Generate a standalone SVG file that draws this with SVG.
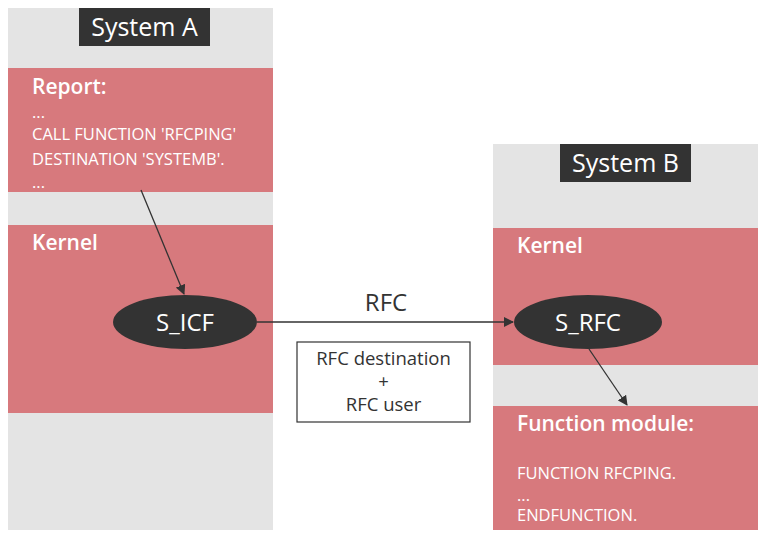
<svg xmlns="http://www.w3.org/2000/svg" width="768" height="537" viewBox="0 0 768 537">
<defs>
<style>
.g{fill:#e4e4e4}
.r{fill:#d7797d}
.t{font-family:"Open Sans",sans-serif;fill:#fff}
.hd{font-size:21px;font-weight:600}
.sm{font-size:16.5px}
.dark{fill:#333333}
.c{stroke:#333;stroke-width:1.3;fill:none}
.n{font-family:"Open Sans",sans-serif;font-size:18.5px;fill:#333;text-anchor:middle}
</style>
<marker id="a" markerWidth="10" markerHeight="10" refX="9" refY="5" orient="auto" markerUnits="userSpaceOnUse"><path d="M0,0 L10,5 L0,10 z" fill="#333"/></marker>
</defs>
<rect width="768" height="537" fill="#fff"/>
<g id="systemA">
<rect class="g" x="8" y="8" width="265" height="522"/>
<rect class="dark" x="79" y="8" width="131" height="38"/>
<text class="t" x="144.5" y="36" font-size="25" text-anchor="middle">System A</text>
</g>
<g id="report">
<rect class="r" x="8" y="68" width="265" height="124"/>
<text class="t hd" x="32" y="94">Report:</text>
<text class="t sm" x="32" y="118">...</text>
<text class="t sm" x="32" y="140">CALL FUNCTION 'RFCPING'</text>
<text class="t sm" x="32" y="165">DESTINATION 'SYSTEMB'.</text>
<text class="t sm" x="32" y="188">...</text>
</g>
<g id="kernelA">
<rect class="r" x="8" y="225" width="265" height="188"/>
<text class="t hd" x="32" y="250">Kernel</text>
</g>
<g id="systemB">
<rect class="g" x="493" y="144" width="265" height="386"/>
<rect class="dark" x="560" y="144" width="131" height="38"/>
<text class="t" x="625.5" y="172" font-size="25" text-anchor="middle">System B</text>
</g>
<g id="kernelB">
<rect class="r" x="493" y="228" width="265" height="137"/>
<text class="t hd" x="517" y="253">Kernel</text>
</g>
<g id="funcmod">
<rect class="r" x="493" y="406" width="265" height="124"/>
<text class="t hd" x="517" y="431">Function module:</text>
<text class="t sm" x="517" y="479">FUNCTION RFCPING.</text>
<text class="t sm" x="517" y="501">...</text>
<text class="t sm" x="517" y="521">ENDFUNCTION.</text>
</g>
<g id="sicf">
<ellipse class="dark" cx="185" cy="322" rx="72" ry="27"/>
<text class="t" x="185" y="331" font-size="24" text-anchor="middle">S_ICF</text>
</g>
<g id="srfc">
<ellipse class="dark" cx="588" cy="322" rx="74" ry="27"/>
<text class="t" x="588" y="331" font-size="24" text-anchor="middle">S_RFC</text>
</g>
<g id="note">
<rect x="297" y="342" width="173" height="80" fill="#fff" stroke="#333" stroke-width="1.2"/>
<text class="n" x="383.5" y="365">RFC destination</text>
<text class="n" x="383.5" y="388">+</text>
<text class="n" x="383.5" y="411">RFC user</text>
</g>
<g id="connectors">
<line class="c" x1="141" y1="190" x2="184" y2="294" marker-end="url(#a)"/>
<line class="c" x1="257" y1="322" x2="513" y2="322" marker-end="url(#a)"/>
<text x="386" y="311" font-family="Open Sans,sans-serif" font-size="24" fill="#333" text-anchor="middle">RFC</text>
<line class="c" x1="589" y1="349" x2="627" y2="405" marker-end="url(#a)"/>
</g>
</svg>
